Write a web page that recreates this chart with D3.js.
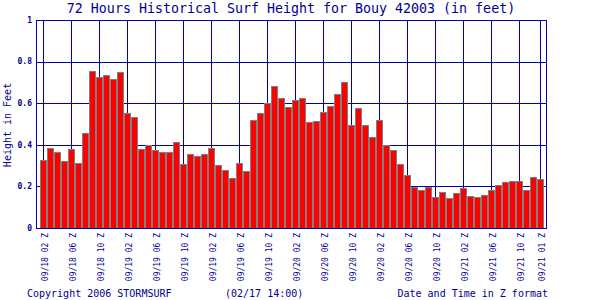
<!DOCTYPE html>
<html>
<head>
<meta charset="utf-8">
<script src="https://cdn.jsdelivr.net/npm/d3@7"></script>
<style>
  body { margin: 0; background: #fff; }
  svg { display: block; font-family: "DejaVu Sans Mono", monospace; }
</style>
</head>
<body>
<div class="canva"></div>
<script>
// surf height in feet, one bar per hour (72 hours)
const heights = [
  0.327, 0.384, 0.365, 0.323, 0.379, 0.311, 0.456, 0.756, 0.727, 0.737,
  0.718, 0.752, 0.553, 0.534, 0.379, 0.397, 0.374, 0.365, 0.365, 0.415,
  0.306, 0.355, 0.345, 0.355, 0.384, 0.302, 0.279, 0.240, 0.311, 0.273,
  0.521, 0.555, 0.603, 0.685, 0.626, 0.584, 0.616, 0.626, 0.510, 0.515,
  0.558, 0.587, 0.642, 0.703, 0.495, 0.577, 0.495, 0.437, 0.519, 0.398,
  0.374, 0.306, 0.253, 0.195, 0.181, 0.198, 0.147, 0.171, 0.142, 0.166,
  0.192, 0.156, 0.147, 0.161, 0.185, 0.205, 0.219, 0.224, 0.224, 0.185,
  0.244, 0.235
];

// hour index of each labelled time + its label
const tickIndex = [0, 4, 8, 12, 16, 20, 24, 28, 32, 36, 40, 44, 48, 52, 56, 60, 64, 68, 71];
const tickLabels = [
  "09/18 02 Z", "09/18 06 Z", "09/18 10 Z", "09/19 02 Z", "09/19 06 Z",
  "09/19 10 Z", "09/19 02 Z", "09/19 06 Z", "09/19 10 Z", "09/20 02 Z",
  "09/20 06 Z", "09/20 10 Z", "09/20 02 Z", "09/20 06 Z", "09/20 10 Z",
  "09/21 02 Z", "09/21 06 Z", "09/21 10 Z", "09/21 01 Z"
];
const yTicks = [0, 0.2, 0.4, 0.6, 0.8, 1];

const blue = "#0000b0";
const navy = "#000090";

const svg = d3.select(".canva").append("svg")
    .attr("width", 600)
    .attr("height", 300);

// frame is a bit wider than the bars
const frameL = 36, frameR = 547, plotTop = 20, plotBottom = 228;

const x = d3.scaleBand()
    .domain(d3.range(heights.length))
    .range([40, 544])
    .padding(0);

const y = d3.scaleLinear()
    .domain([0, 1])
    .range([plotBottom, plotTop]);

const snap = v => Math.round(v) + 0.5;

// grid
svg.append("g").selectAll("line")
    .data(yTicks)
    .join("line")
    .attr("x1", frameL).attr("x2", frameR)
    .attr("y1", d => snap(y(d))).attr("y2", d => snap(y(d)))
    .attr("stroke", blue);

svg.append("g").selectAll("line")
    .data(tickIndex)
    .join("line")
    .attr("x1", d => snap(x(d) + 3)).attr("x2", d => snap(x(d) + 3))
    .attr("y1", plotTop).attr("y2", plotBottom)
    .attr("stroke", blue);

// bars
svg.append("g").selectAll("rect")
    .data(heights)
    .join("rect")
    .attr("x", (d, i) => x(i) + 0.5)
    .attr("width", x.bandwidth() - 1)
    .attr("y", d => Math.round(y(d)) + 0.5)
    .attr("height", d => plotBottom - Math.round(y(d)))
    .attr("fill", "#ff0000")
    .attr("stroke", "#808080")
    .attr("stroke-width", 1);

// frame
svg.append("rect")
    .attr("x", frameL + 0.5)
    .attr("y", plotTop + 0.5)
    .attr("width", frameR - frameL - 1)
    .attr("height", plotBottom - plotTop)
    .attr("fill", "none")
    .attr("stroke", blue);

// y tick labels
svg.append("g").selectAll("text")
    .data(yTicks)
    .join("text")
    .text(d => d === 0 || d === 1 ? d : d.toFixed(1))
    .attr("x", 32)
    .attr("y", d => y(d))
    .attr("dy", "0.35em")
    .attr("text-anchor", "end")
    .attr("font-size", 8)
    .attr("font-weight", "bold")
    .attr("fill", navy);

// x tick labels, rotated
svg.append("g").selectAll("text")
    .data(tickIndex)
    .join("text")
    .text((d, i) => tickLabels[i])
    .attr("transform", d => `translate(${x(d) + 5},233) rotate(-90)`)
    .attr("dy", "0.35em")
    .attr("text-anchor", "end")
    .attr("font-size", 8)
    .attr("fill", navy);

svg.append("text")
    .text("72 Hours Historical Surf Height for Bouy 42003 (in feet)")
    .attr("x", 291)
    .attr("y", 13)
    .attr("text-anchor", "middle")
    .attr("font-size", 13.3)
    .attr("fill", navy);

svg.append("text")
    .text("Height in Feet")
    .attr("transform", "translate(11,125) rotate(-90)")
    .attr("text-anchor", "middle")
    .attr("font-size", 10)
    .attr("fill", navy);

svg.append("text")
    .text("Copyright 2006 STORMSURF")
    .attr("x", 27)
    .attr("y", 297)
    .attr("font-size", 10)
    .attr("fill", navy);

svg.append("text")
    .text("(02/17 14:00)")
    .attr("x", 225)
    .attr("y", 297)
    .attr("font-size", 10)
    .attr("fill", navy);

svg.append("text")
    .text("Date and Time in Z format")
    .attr("x", 548)
    .attr("y", 297)
    .attr("text-anchor", "end")
    .attr("font-size", 10)
    .attr("fill", navy);
</script>
</body>
</html>
